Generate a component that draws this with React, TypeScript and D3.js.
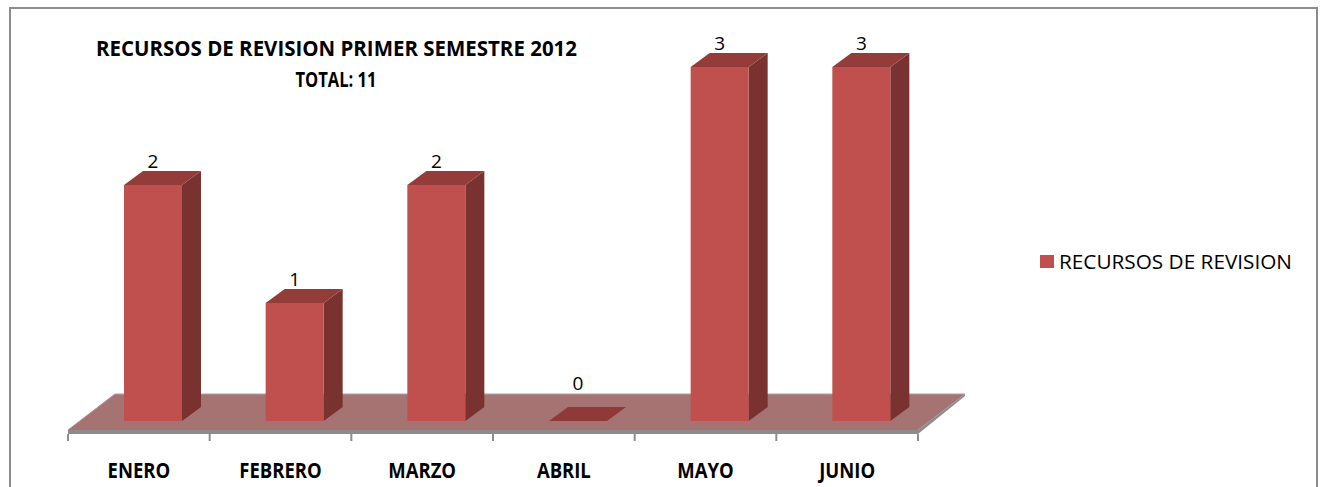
import React from "react";
import * as d3 from "d3";

const categories = ["ENERO", "FEBRERO", "MARZO", "ABRIL", "MAYO", "JUNIO"];
const values = [2, 1, 2, 0, 3, 3];
const seriesName = "RECURSOS DE REVISION";
const titleLines = ["RECURSOS DE REVISION PRIMER SEMESTRE 2012", "TOTAL: 11"];

const W = 1321;
const H = 487;
const FONT = "'Open Sans', 'Liberation Sans', Arial, sans-serif";

export default function App() {
  const x = d3.scaleBand<string>().domain(categories).range([68, 918]).padding(0);
  const y = d3.scaleLinear().domain([0, 3]).range([421, 67]);

  // floor geometry
  const floorFront = 430;
  const floorBack = 394;
  const floorDx = 47;
  const floorThick = 4;
  const [x0, x1] = x.range();

  // bar geometry
  const barOffset = 56;
  const barW = 58;
  const depthX = 19;
  const depthY = 14;

  const front = "#C0504D";
  const side = "#7A3230";
  const top = "#943C3A";
  const floorFill = "#A47372";
  const gray = "#8C8C8C";

  const poly = (pts: [number, number][]) => pts.map((p) => p.join(",")).join(" ");

  const ticks = d3.range(categories.length + 1).map((i) => x0 + i * x.step());

  return (
    <svg
      width={W}
      height={H}
      style={{ position: "absolute", left: 0, top: 0, background: "#fff" }}
      fontFamily={FONT}
    >
      <rect x={0} y={0} width={W} height={H} fill="#fff" />
      <rect x={10} y={8} width={1307} height={520} fill="none" stroke={gray} strokeWidth={2} />

      {/* title */}
      <text x={336.5} y={56} textAnchor="middle" fontSize={21} fontWeight="bold" fill="#000"
        textLength={481} lengthAdjust="spacingAndGlyphs">
        {titleLines[0]}
      </text>
      <text x={336} y={87} textAnchor="middle" fontSize={21} fontWeight="bold" fill="#000"
        textLength={81} lengthAdjust="spacingAndGlyphs">
        {titleLines[1]}
      </text>

      {/* floor */}
      <polygon
        points={poly([
          [x0, floorFront],
          [x1, floorFront],
          [x1 + floorDx, floorBack],
          [x0 + floorDx, floorBack],
        ])}
        fill={floorFill}
      />
      <line x1={x0 + floorDx} y1={floorBack} x2={x1 + floorDx} y2={floorBack} stroke="#B0A0A0" strokeWidth={1} />
      <line x1={x0} y1={floorFront} x2={x0 + floorDx} y2={floorBack} stroke="#B09090" strokeWidth={1} />
      <rect x={x0} y={floorFront} width={x1 - x0} height={floorThick} fill={gray} />
      <polygon
        points={poly([
          [x1, floorFront],
          [x1 + floorDx, floorBack],
          [x1 + floorDx, floorBack + 2],
          [x1, floorFront + floorThick],
        ])}
        fill={gray}
      />
      {ticks.map((t, i) => (
        <line key={i} x1={t} y1={floorFront + floorThick} x2={t} y2={441} stroke={gray} strokeWidth={2} />
      ))}

      {/* bars */}
      {categories.map((c, i) => {
        const bx = (x(c) as number) + barOffset;
        const y0 = y(0);
        const yt = y(values[i]);
        const h = y0 - yt;
        const labelY = Math.min(yt - 17, floorBack - 4);
        return (
          <g key={c}>
            {h > 0.5 ? (
              <>
                <polygon
                  points={poly([
                    [bx + barW, yt],
                    [bx + barW + depthX, yt - depthY],
                    [bx + barW + depthX, y0 - depthY],
                    [bx + barW, y0],
                  ])}
                  fill={side}
                />
                <polygon
                  points={poly([
                    [bx, yt],
                    [bx + barW, yt],
                    [bx + barW + depthX, yt - depthY],
                    [bx + depthX, yt - depthY],
                  ])}
                  fill={top}
                />
                <rect x={bx} y={yt} width={barW} height={h} fill={front} />
              </>
            ) : (
              <polygon
                points={poly([
                  [bx, y0],
                  [bx + barW, y0],
                  [bx + barW + depthX, y0 - depthY],
                  [bx + depthX, y0 - depthY],
                ])}
                fill="#8F3A38"
              />
            )}
            <text x={bx + barW / 2} y={labelY} textAnchor="middle" fontSize={19} fill="#000">
              {values[i]}
            </text>
          </g>
        );
      })}

      {/* category labels */}
      {categories.map((c) => (
        <g key={c} transform={`translate(${(x(c) as number) + x.bandwidth() / 2},478) scale(0.88,1)`}>
          <text x={0} y={0} textAnchor="middle" fontSize={21} fontWeight="bold" fill="#000">
            {c}
          </text>
        </g>
      ))}

      {/* legend */}
      <rect x={1040} y={255} width={14} height={13} fill={front} />
      <text x={1059} y={269} fontSize={20} fill="#000" textLength={233} lengthAdjust="spacingAndGlyphs">
        {seriesName}
      </text>
    </svg>
  );
}
